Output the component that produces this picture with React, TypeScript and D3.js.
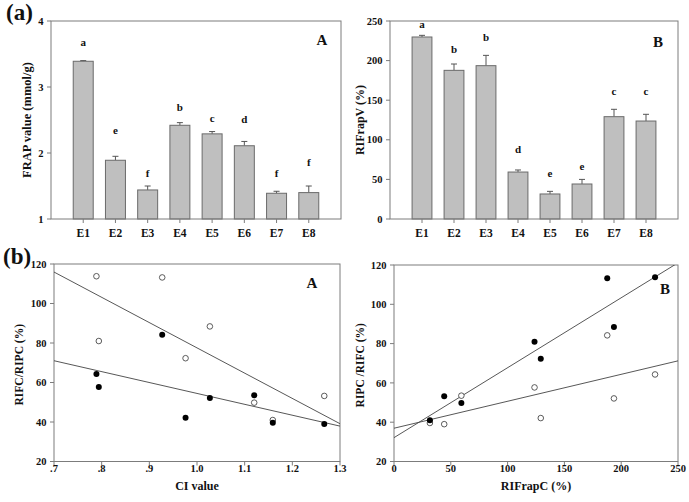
import * as d3 from "d3";
import React from "react";

// groups shared by the two bar panels
const categories = ["E1", "E2", "E3", "E4", "E5", "E6", "E7", "E8"];

// (a) A – FRAP value (mmol/g)
const frapValue = [3.39, 1.89, 1.44, 2.42, 2.29, 2.11, 1.39, 1.4];
const frapError = [0.01, 0.06, 0.06, 0.04, 0.035, 0.065, 0.03, 0.1];
const frapLetters = ["a", "e", "f", "b", "c", "d", "f", "f"];
const frapLetterAt = [3.68, 2.35, 1.7, 2.69, 2.53, 2.52, 1.7, 1.86];
const frapTicks = [1, 2, 3, 4];

// (a) B – RIFrapV (%)
const rifrapV = [229.8, 187.7, 193.6, 59.3, 31.6, 44.2, 129.2, 123.7];
const rifrapVError = [2.1, 8.0, 13.0, 2.6, 3.3, 5.8, 9.3, 8.5];
const rifrapVLetters = ["a", "b", "b", "d", "e", "e", "c", "c"];
const rifrapVLetterAt = [245.5, 214.2, 229.4, 88, 58.5, 67.3, 161.6, 161.6];
const rifrapVTicks = [0, 50, 100, 150, 200, 250];

// (b) scatter data, one value per group E1..E8
const ciValue = [0.789, 0.927, 1.027, 1.12, 1.159, 1.267, 0.976, 0.794];
const rifrapC = [229.8, 187.7, 193.6, 59.3, 31.6, 44.2, 129.2, 123.7];
const ratioOne = [113.8, 113.2, 88.4, 49.8, 41.0, 53.2, 72.3, 81.0];
const ratioTwo = [64.3, 84.2, 52.1, 53.5, 39.6, 39.0, 42.1, 57.7];
const ratioTicks = [20, 40, 60, 80, 100, 120];
const ciTicks = [0.7, 0.8, 0.9, 1.0, 1.1, 1.2, 1.3];
const ciTickLabels = [".7", ".8", ".9", "1.0", "1.1", "1.2", "1.3"];
const rifrapCTicks = [0, 50, 100, 150, 200, 250];

const FONT = "'Liberation Serif', 'Times New Roman', serif";
const FRAME = "#7c7c7c";
const INK = "#111";
const TICK = 4;

type Box = { left: number; right: number; top: number; bottom: number };

// least squares line through the points
function fit(xs: number[], ys: number[]) {
	const mx = d3.mean(xs) as number;
	const my = d3.mean(ys) as number;
	let sxy = 0;
	let sxx = 0;
	xs.forEach((x, i) => {
		sxy += (x - mx) * (ys[i] - my);
		sxx += (x - mx) * (x - mx);
	});
	const slope = sxy / sxx;
	return { slope, intercept: my - slope * mx };
}

const YAxis = ({ box, y, ticks, labels }: any) => (
	<g>
		{ticks.map((t: number, i: number) => (
			<g key={t}>
				<line x1={box.left - TICK} x2={box.left} y1={y(t)} y2={y(t)} stroke={FRAME} />
				<text
					x={box.left - 7.5}
					y={y(t)}
					dy="0.35em"
					textAnchor="end"
					fontSize={10.5}
					fontWeight="bold"
					fill={INK}
				>
					{labels ? labels[i] : t}
				</text>
			</g>
		))}
	</g>
);

const BarPanel = ({ box, domain, ticks, values, errors, letters, letterAt, yTitle, titleX, titleSize, tag, tagX, tagY }: any) => {
	const x = d3
		.scaleBand<string>()
		.domain(categories)
		.range([box.left, box.right])
		.paddingInner(0.38)
		.paddingOuter(0.69);
	const y = d3.scaleLinear().domain(domain).range([box.bottom, box.top]);
	const bw = x.bandwidth();
	return (
		<g>
			{categories.map((c, i) => {
				const cx = (x(c) as number) + bw / 2;
				const top = y(values[i]);
				const err = y(values[i] + errors[i]);
				return (
					<g key={c}>
						<line x1={cx} x2={cx} y1={top} y2={err} stroke="#555" />
						<line x1={cx - 3} x2={cx + 3} y1={err} y2={err} stroke="#555" />
						<rect
							x={x(c)}
							y={top}
							width={bw}
							height={box.bottom - top}
							fill="#bfbfbf"
							stroke="#6a6a6a"
							strokeWidth={1}
						/>
						<text
							x={cx}
							y={y(letterAt[i])}
							dy="0.35em"
							textAnchor="middle"
							fontSize={11}
							fontWeight="bold"
							fill={INK}
						>
							{letters[i]}
						</text>
						<line x1={cx} x2={cx} y1={box.bottom} y2={box.bottom + TICK} stroke={FRAME} />
						<text x={cx} y={233} dy="0.35em" textAnchor="middle" fontSize={11.5} fontWeight="bold" fill={INK}>
							{c}
						</text>
					</g>
				);
			})}
			<rect
				x={box.left}
				y={box.top}
				width={box.right - box.left}
				height={box.bottom - box.top}
				fill="none"
				stroke={FRAME}
			/>
			<YAxis box={box} y={y} ticks={ticks} />
			<text
				transform={`translate(${titleX},${(box.top + box.bottom) / 2}) rotate(-90)`}
				dy="0.35em"
				textAnchor="middle"
				fontSize={titleSize}
				fontWeight="bold"
				fill={INK}
			>
				{yTitle}
			</text>
			<text x={tagX} y={tagY} dy="0.35em" textAnchor="middle" fontSize={15} fontWeight="bold" fill={INK}>
				{tag}
			</text>
		</g>
	);
};

const ScatterPanel = ({ box, xDomain, xTicks, xLabels, xs, filled, open, xTitle, yTitle, titleX, tag, tagX, tagY }: any) => {
	const x = d3.scaleLinear().domain(xDomain).range([box.left, box.right]);
	const y = d3.scaleLinear().domain([20, 120]).range([box.bottom, box.top]);
	const lines = [fit(xs, open), fit(xs, filled)];
	const clipId = `clip-${tag}-${box.left}`;
	return (
		<g>
			<rect
				x={box.left}
				y={box.top}
				width={box.right - box.left}
				height={box.bottom - box.top}
				fill="none"
				stroke={FRAME}
			/>
			<defs>
				<clipPath id={clipId}>
					<rect x={box.left} y={box.top} width={box.right - box.left} height={box.bottom - box.top} />
				</clipPath>
			</defs>
			<g clipPath={`url(#${clipId})`}>
				{lines.map((l, i) => (
					<line
						key={i}
						x1={x(xDomain[0])}
						x2={x(xDomain[1])}
						y1={y(l.intercept + l.slope * xDomain[0])}
						y2={y(l.intercept + l.slope * xDomain[1])}
						stroke="#444"
						strokeWidth={0.9}
					/>
				))}
			</g>
			{xs.map((v: number, i: number) => (
				<circle key={`o${i}`} cx={x(v)} cy={y(open[i])} r={2.8} fill="#fff" stroke="#333" strokeWidth={0.8} />
			))}
			{xs.map((v: number, i: number) => (
				<circle key={`f${i}`} cx={x(v)} cy={y(filled[i])} r={3} fill="#000" />
			))}
			{xTicks.map((t: number, i: number) => (
				<g key={t}>
					<line x1={x(t)} x2={x(t)} y1={box.bottom} y2={box.bottom + TICK} stroke={FRAME} />
					<text x={x(t)} y={468} dy="0.35em" textAnchor="middle" fontSize={10.5} fontWeight="bold" fill={INK}>
						{xLabels ? xLabels[i] : t}
					</text>
				</g>
			))}
			<YAxis box={box} y={y} ticks={ratioTicks} />
			<text
				x={(box.left + box.right) / 2}
				y={486}
				dy="0.35em"
				textAnchor="middle"
				fontSize={12}
				fontWeight="bold"
				fill={INK}
			>
				{xTitle}
			</text>
			<text
				transform={`translate(${titleX},${(box.top + box.bottom) / 2 + 2}) rotate(-90)`}
				dy="0.35em"
				textAnchor="middle"
				fontSize={11.5}
				fontWeight="bold"
				fill={INK}
			>
				{yTitle}
			</text>
			<text x={tagX} y={tagY} dy="0.35em" textAnchor="middle" fontSize={15} fontWeight="bold" fill={INK}>
				{tag}
			</text>
		</g>
	);
};

export default function App() {
	const aA: Box = { left: 51, right: 341, top: 21, bottom: 219 };
	const aB: Box = { left: 390, right: 678, top: 21, bottom: 219 };
	const bA: Box = { left: 54, right: 340, top: 264, bottom: 461.5 };
	const bB: Box = { left: 394, right: 678, top: 265, bottom: 461.5 };
	return (
		<svg
			width={689}
			height={502}
			style={{ position: "absolute", left: 0, top: 0, background: "#fff" }}
			fontFamily={FONT}
		>
			<text x={6} y={20} fontSize={23} fontWeight="bold" fill={INK}>
				(a)
			</text>
			<text x={3} y={264} fontSize={23} fontWeight="bold" fill={INK}>
				(b)
			</text>
			<BarPanel
				box={aA}
				domain={[1, 4]}
				ticks={frapTicks}
				values={frapValue}
				errors={frapError}
				letters={frapLetters}
				letterAt={frapLetterAt}
				yTitle="FRAP value (mmol/g)"
				titleX={27}
				titleSize={12.5}
				tag="A"
				tagX={322}
				tagY={40}
			/>
			<BarPanel
				box={aB}
				domain={[0, 250]}
				ticks={rifrapVTicks}
				values={rifrapV}
				errors={rifrapVError}
				letters={rifrapVLetters}
				letterAt={rifrapVLetterAt}
				yTitle="RIFrapV (%)"
				titleX={360}
				titleSize={12}
				tag="B"
				tagX={658}
				tagY={42}
			/>
			<ScatterPanel
				box={bA}
				xDomain={[0.7, 1.3]}
				xTicks={ciTicks}
				xLabels={ciTickLabels}
				xs={ciValue}
				open={ratioOne}
				filled={ratioTwo}
				xTitle="CI value"
				yTitle="RIFC/RIPC (%)"
				titleX={19}
				tag="A"
				tagX={312}
				tagY={283}
			/>
			<ScatterPanel
				box={bB}
				xDomain={[0, 250]}
				xTicks={rifrapCTicks}
				xs={rifrapC}
				open={ratioTwo}
				filled={ratioOne}
				xTitle="RIFrapC (%)"
				yTitle="RIPC /RIFC (%)"
				titleX={360}
				tag="B"
				tagX={665}
				tagY={289}
			/>
		</svg>
	);
}
